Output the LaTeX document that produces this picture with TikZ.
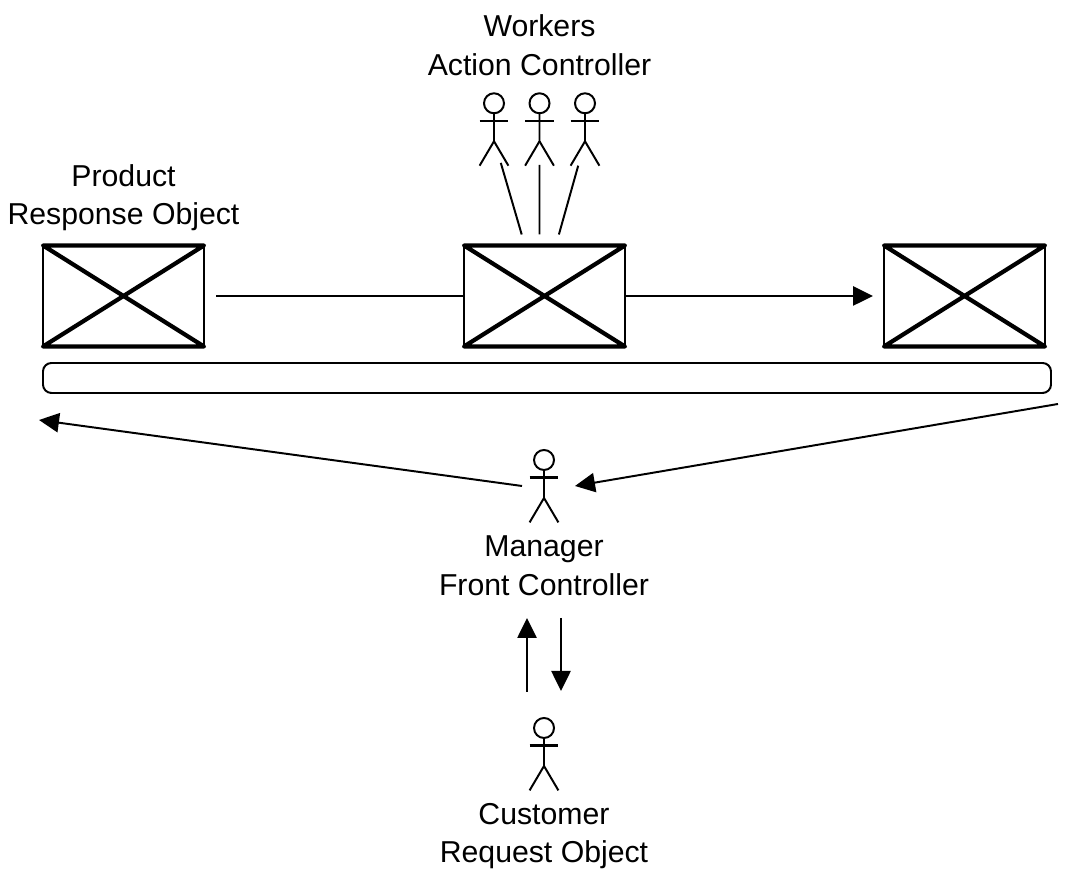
\documentclass[tikz,border=0pt]{standalone}
\usepackage{fontspec}
\usepackage{xcolor}
\usepackage{tikz}
\usetikzlibrary{arrows.meta}
\setmainfont{Liberation Sans}
\tikzset{
  % --- conveyor boxes and belt ---
  crate/.style={draw=black, line width=1.4pt, minimum width=4.025cm, minimum height=2.525cm,
                inner sep=0pt, outer sep=0pt},
  crateedge/.style={line width=3pt, line cap=round, line join=round},
  belt/.style={draw=black, line width=1.4pt, rounded corners=6pt, minimum width=25.2cm,
               minimum height=0.75cm, inner sep=0pt, outer sep=0pt},
  % --- connectors ---
  plainflow/.style={line width=1.4pt, draw=black},
  flow/.style={plainflow, -{Triangle[length=5mm,width=4.8mm]}},
  % --- labels ---
  caption/.style={align=center, inner sep=0pt,
                  font=\fontsize{21.5}{27.4}\selectfont},
  % --- stick figure, origin at the centre of the head ---
  stickman/.pic={
    \node[circle, draw=black, line width=1.4pt, minimum size=0.5cm, inner sep=0pt,
          outer sep=0pt] (-head) at (0,0) {};
    \draw[line width=1.4pt] (-head.south) -- (0,-0.95) -- (-0.36,-1.56);
    \draw[line width=1.4pt] (0,-0.95) -- (0.36,-1.56);
    \draw[line width=1.8pt] (-0.36,-0.44) -- (0.36,-0.44);
    \coordinate (-foot) at (0,-1.56);
  },
}

\begin{document}
\begin{tikzpicture}
  \useasboundingbox (0,0) rectangle (26.75,21.95);
  % --- boxes on the belt ---
  \node[crate] (product) at (3.0875,14.55) {};
  \node[crate] (action)  at (13.6125,14.55) {};
  \node[crate] (finished) at (24.1125,14.55) {};
  \foreach \b in {product,action,finished}
    \draw[crateedge] (\b.north west) -- (\b.north east) -- (\b.south west)
                     -- (\b.south east) -- cycle;
  \node[belt] (belt) at (13.675,12.5) {};

  % --- stick figures ---
  \pic (worker1) at (12.35,19.3675) {stickman};
  \pic (worker2) at (13.4875,19.3675) {stickman};
  \pic (worker3) at (14.625,19.3675) {stickman};
  \pic (manager) at (13.6,10.45) {stickman};
  \pic (customer) at (13.6,3.75) {stickman};

  % --- labels ---
  \node[caption] (workerslabel) at (13.4875,20.8175) {Workers\\Action Controller};
  \node[caption] (productlabel) at (3.0875,17.01) {Product\\Response Object};
  \node[caption] (managerlabel) at (13.6,7.805) {Manager\\Front Controller};
  \node[caption] (customerlabel) at (13.6,1.05) {Customer\\Request Object};

  % --- workers -> middle box ---
  \draw[plainflow] ([shift={(0.17,0.07)}]worker1-foot) -- ([shift={(-0.57,0.275)}]action.north);
  \draw[plainflow] ([shift={(0,0.02)}]worker2-foot) -- ([shift={(-0.125,0.275)}]action.north);
  \draw[plainflow] ([shift={(-0.17,0)}]worker3-foot) -- ([shift={(0.36,0.275)}]action.north);

  % --- along the belt ---
  \draw[plainflow, shorten <=3mm] (product.east) -- (action.west);
  \draw[flow, shorten >=2.75mm] (action.east) -- (finished.west);

  % --- round the manager ---
  \draw[flow] ([shift={(0.175,-0.275)}]belt.south east) -- ([shift={(0.775,-0.65)}]manager-head.center);
  \draw[flow] ([shift={(-0.55,-0.65)}]manager-head.center) -- ([shift={(-0.1,-0.675)}]belt.south west);

  % --- manager <-> customer ---
  \draw[flow] ([shift={(-0.425,0.9)}]customer-head.center) -- ([shift={(-0.425,-3.95)}]manager-head.center);
  \draw[flow] ([shift={(0.425,-3.95)}]manager-head.center) -- ([shift={(0.425,0.925)}]customer-head.center);
\end{tikzpicture}
\end{document}
